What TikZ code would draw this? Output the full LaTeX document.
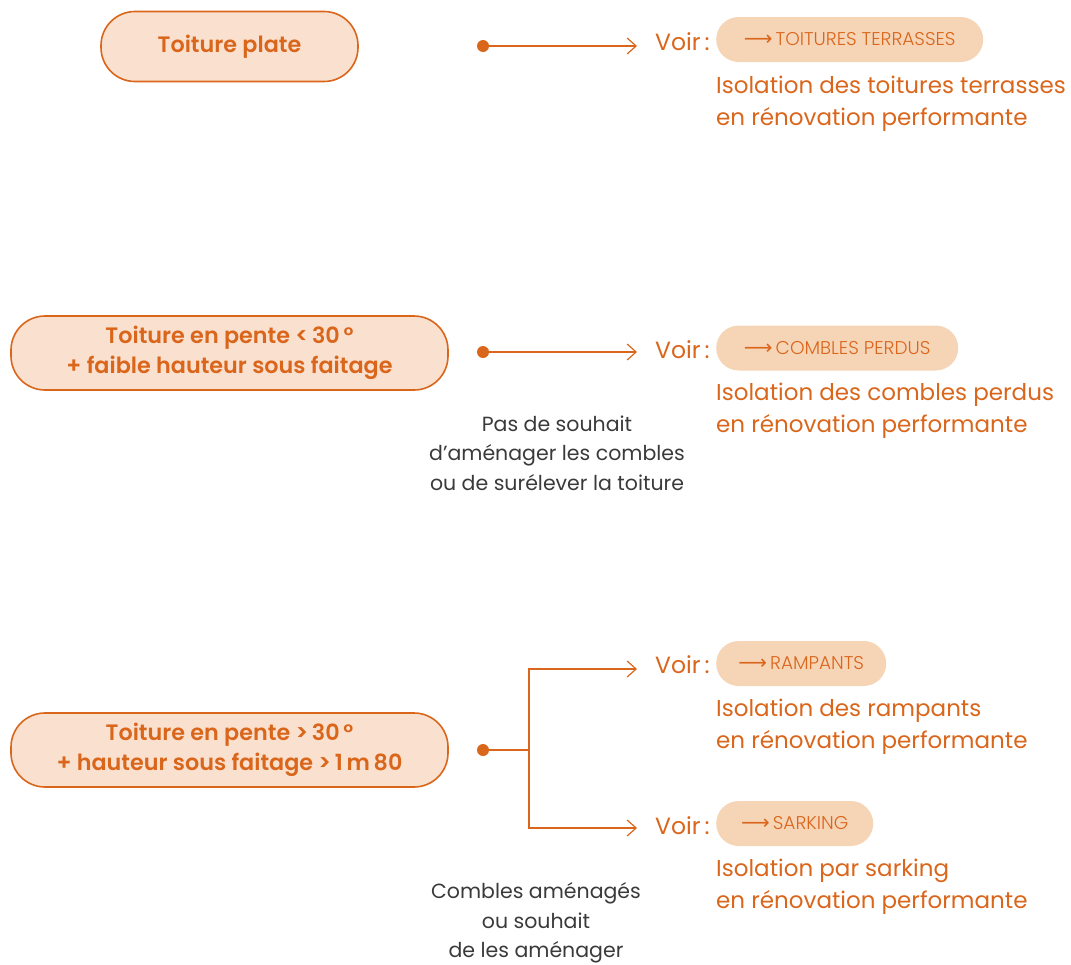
\documentclass[tikz,border=0pt]{standalone}
\usepackage{fontspec}
\setmainfont{Poppins}[BoldFont={Poppins SemiBold}]
\newfontfamily\lightfont{Poppins Light}
\newfontfamily\arrowfont{DejaVu Sans}
\usetikzlibrary{arrows.meta}
\definecolor{orng}{HTML}{DA661C}
\definecolor{boxfill}{HTML}{FAE1CF}
\definecolor{pillfill}{HTML}{F6D4B6}
\definecolor{graytxt}{HTML}{3A3A3A}
\tikzset{
  mainbox/.style={draw=orng, line width=1.6pt, fill=boxfill, rounded corners=34pt,
    minimum height=70pt, align=center, text=orng, font=\fontsize{22.3}{29.5}\selectfont\bfseries, inner sep=0pt},
  pill/.style={fill=pillfill, rounded corners=22.5pt, minimum height=45pt, anchor=west,
    text=orng, font=\lightfont\fontsize{18.5}{20}\selectfont, inner sep=0pt},
  voirlbl/.style={anchor=west, text=orng, font=\fontsize{23.5}{26}\selectfont, inner sep=0pt},
  desc/.style={anchor=north west, align=left, text=orng, font=\fontsize{23}{32}\selectfont, inner sep=0pt},
  note/.style={align=center, text=graytxt, font=\fontsize{20.5}{29.5}\selectfont, inner sep=0pt},
  dotnode/.style={circle, fill=orng, minimum size=12pt, inner sep=0pt},
  conn/.style={draw=orng, line width=1.2pt},
  arr/.style={conn, -{Straight Barb[length=9pt,width=16pt,line width=1.2pt]}},
}
\newcommand{\pillarrow}{{\arrowfont\fontsize{20}{20}\selectfont ⟶}\,}
\begin{document}
\begin{tikzpicture}[x=1pt,y=-1pt]
\useasboundingbox (0,0) rectangle (1071,964);

% Row 1
\node[mainbox, minimum width=257pt] (b1) at (229.5,46.5) {Toiture plate};
\node[dotnode] (d1) at (483,46) {};
\coordinate (t1) at (637,46);
\draw[arr] (d1) -- (t1);
\node[voirlbl] (v1) at (655,42) {Voir\,:};
\node[pill, minimum width=267pt] (p1) at (716,39.5) {\pillarrow TOITURES TERRASSES};
\node[desc] (s1) at (716,76) {Isolation des toitures terrasses\\en rénovation performante};

% Row 2
\node[mainbox, minimum width=437pt, minimum height=74pt] (b2) at (229.5,353) {Toiture en pente <\,30\,°\\+ faible hauteur sous faitage};
\node[dotnode] (d2) at (483,352) {};
\coordinate (t2) at (637,352);
\draw[arr] (d2) -- (t2);
\node[voirlbl] (v2) at (655,350) {Voir\,:};
\node[pill, minimum width=242pt] (p2) at (716,348) {\pillarrow COMBLES PERDUS};
\node[desc] (s2) at (716,383) {Isolation des combles perdus\\en rénovation performante};
\node[note] (n2) at (557,453) {Pas de souhait\\d’aménager les combles\\ou de surélever la toiture};

% Row 3
\node[mainbox, minimum width=437pt, minimum height=74pt] (b3) at (229.5,750) {Toiture en pente >\,30\,°\\+ hauteur sous faitage >\,1\,m\,80};
\node[dotnode] (d3) at (483,750) {};
\coordinate (j3) at (529,750);
\coordinate (t3a) at (637,669);
\coordinate (t3b) at (637,828);
\draw[conn] (d3) -- (j3);
\draw[arr] (j3) |- (t3a);
\draw[arr] (j3) |- (t3b);
\node[voirlbl] (v3) at (655,665) {Voir\,:};
\node[pill, minimum width=170pt] (p3) at (716,663.5) {\pillarrow RAMPANTS};
\node[desc] (s3) at (716,699) {Isolation des rampants\\en rénovation performante};
\node[voirlbl] (v4) at (655,826) {Voir\,:};
\node[pill, minimum width=157pt] (p4) at (716,823.5) {\pillarrow SARKING};
\node[desc] (s4) at (716,859) {Isolation par sarking\\en rénovation performante};
\node[note] (n3) at (536,923) {Combles aménagés\\ou souhait\\de les aménager};
\end{tikzpicture}
\end{document}
